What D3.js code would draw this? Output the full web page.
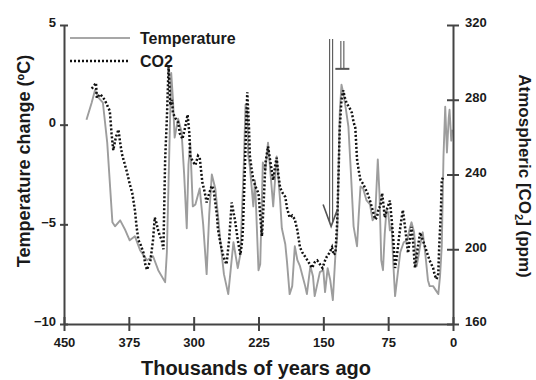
<!DOCTYPE html>
<html><head><meta charset="utf-8">
<script src="https://cdn.jsdelivr.net/npm/d3@7"></script>
<style>
html,body{margin:0;padding:0;background:#fff;}
svg text{font-family:"Liberation Sans",Arial,sans-serif;font-weight:bold;fill:#1a1a1a;}
</style></head><body>
<svg id="c" width="536" height="380"></svg>
<script>
// ---- data (thousands of years ago) ----
const tempAge = [424,418,414,411,405,400,394,391,385,379,374,368,362,354,347,341,333,331,328,326,324,322,318,314,311,308,306,304,301,298,293,289,285,282,279,275,272,269,265,260,257,254,249,246,242,240,238,237,235,231,229,225,223,220,217,214,211,208,204,200,198,194,192,189,186,183,180,177,174,171,169,165,162,160,157,154,150,148,145,142,139,136,134,132,131,129,127,124,121,118,115,113,111,109,107,104,100,96,93,90,87,85,83,81,79,77,75,73,71,69,67,64,61,57,53,50,48,45,42,40,37,35,32,29,27,23,20,17,15,13,11,9,7,5,4,2,1];
const tempVal = [0.25,1.1,1.75,1.4,1.1,-0.9,-4.9,-5.1,-4.8,-5.3,-5.8,-5.6,-6.3,-6.8,-6.6,-7.3,-7.9,-6.4,-1.0,2.6,1.3,-0.65,0.3,-0.35,-2.5,-5.2,-2.0,-0.9,-4.1,-4.0,-3.2,-5.0,-7.5,-4.5,-2.5,-3.2,-4.5,-5.9,-7.5,-8.5,-7.2,-5.9,-7.2,-6.5,-2.0,1.0,0.6,-1.5,-2.1,-4.1,-2.8,-7.3,-7.0,-1.9,-2.3,-0.9,-2.5,-4.1,-1.6,-3.8,-5.2,-6.0,-6.9,-8.5,-8.1,-6.1,-6.8,-7.1,-7.6,-8.1,-8.5,-7.1,-7.6,-8.6,-8.0,-7.4,-7.3,-8.4,-7.2,-7.8,-8.8,-6.5,-5.6,-1.5,0.6,2.0,1.6,0.8,-0.1,-2.5,-5.1,-5.6,-6.1,-4.5,-3.1,-3.2,-3.8,-4.0,-4.8,-4.6,-1.75,-3.5,-6.8,-7.3,-5.5,-4.3,-4.4,-5.3,-5.1,-7.0,-8.6,-7.5,-6.4,-5.9,-5.8,-5.2,-4.9,-5.4,-7.1,-6.6,-5.8,-5.4,-6.5,-7.8,-8.1,-8.1,-8.3,-8.5,-7.6,-6.1,-1.6,0.9,-1.4,0.3,0.75,-0.8,-0.25];

const co2Age = [418,416,413,412,408,403,400,397,395,393,390,387,385,383,380,377,374,371,368,366,364,361,358,356,354,350,347,345,343,341,339,337,335,333,331,329,327,325,324,321,318,316,313,310,307,305,304,301,298,295,293,290,287,285,282,279,277,275,273,272,269,266,264,262,259,256,254,252,249,246,244,243,241,239,238,236,235,233,231,228,225,223,221,219,217,214,211,208,206,204,202,200,197,194,192,189,186,183,180,177,174,171,167,163,160,157,154,151,148,146,143,140,138,136,134,133,131,129,127,125,123,120,117,115,113,111,109,107,104,102,99,96,93,90,88,86,84,82,80,79,76,73,71,69,67,65,62,60,58,55,52,50,48,46,44,41,38,35,32,30,27,23,21,19,17,16,14,13,11];
const co2Val = [286,287,289,281,283,280,277,274,262,253,260,264,257,251,246,241,235,230,221,212,205,202,198,192,189,194,205,217,214,210,207,205,200,248,270,298,277,280,273,270,268,262,259,265,272,262,250,247,245,250,249,236,230,225,230,234,232,225,218,211,203,197,194,192,205,225,220,215,205,197,204,211,240,270,284,265,250,243,237,233,230,218,207,225,246,255,246,237,244,249,240,233,230,228,222,217,218,216,210,201,198,196,193,190,193,194,192,190,194,196,198,201,197,198,214,230,265,280,285,281,278,276,273,268,265,248,242,237,235,233,230,226,221,216,217,222,223,230,222,217,222,226,216,205,190,196,208,215,221,210,198,205,212,203,190,200,209,205,201,198,194,190,186,184,187,201,220,237,239];

const xTicks = [450,375,300,225,150,75,0];
const tTicks = [-10,-5,0,5];
const cTicks = [160,200,240,280,320];
const seriesNames = ["Temperature","CO2"];

// ---- layout ----
const svg = d3.select("#c");
const L = 64, R = 453, T = 25, B = 324;
const x = d3.scaleLinear().domain([450,0]).range([L,R]);
const yT = d3.scaleLinear().domain([-10,5]).range([B,T]);
const yC = d3.scaleLinear().domain([160,320]).range([B,T]);
const axisCol = "#444";

// lines
const tData = tempAge.map((a,i)=>[a,tempVal[i]]);
const cData = co2Age.map((a,i)=>[a,co2Val[i]]);
svg.append("path").datum(tData)
  .attr("d", d3.line().x(d=>x(d[0])).y(d=>yT(d[1])))
  .attr("fill","none").attr("stroke","#9d9d9d").attr("stroke-width",1.9).attr("stroke-linejoin","round");
svg.append("path").datum(cData)
  .attr("d", d3.line().x(d=>x(d[0])).y(d=>yC(d[1])))
  .attr("fill","none").attr("stroke","#111").attr("stroke-width",2.5).attr("stroke-dasharray","2,2");

// axes
function styleAxis(g){
  g.select(".domain").attr("stroke",axisCol).attr("stroke-width",2);
  g.selectAll(".tick line").attr("stroke",axisCol).attr("stroke-width",2);
  g.selectAll(".tick text").attr("font-size",13).attr("font-weight","bold").attr("fill","#1a1a1a");
}
const gL = svg.append("g").attr("transform",`translate(${L},0)`)
  .call(d3.axisLeft(yT).tickValues(tTicks).tickSizeOuter(0).tickFormat(d3.format("d")));
styleAxis(gL);
gL.selectAll(".tick line").attr("x1",-4).attr("x2",4);
gL.selectAll(".tick text").attr("x",-8).attr("dy","0.15em");

const gB = svg.append("g").attr("transform",`translate(0,${B})`)
  .call(d3.axisBottom(x).tickValues(xTicks).tickSizeOuter(0).tickFormat(d3.format("d")));
styleAxis(gB);
gB.selectAll(".tick line").attr("y1",-7).attr("y2",7);
gB.selectAll(".tick text").attr("y",14).attr("dy","0.71em");

const gR = svg.append("g").attr("transform",`translate(${R},0)`)
  .call(d3.axisRight(yC).tickValues(cTicks).tickSizeOuter(0).tickFormat(d3.format("d")));
styleAxis(gR);
gR.selectAll(".tick line").attr("x1",-6).attr("x2",6);
gR.selectAll(".tick text").attr("x",12).attr("dy","0.15em");

// axis titles
svg.append("text").attr("transform","translate(30,161) rotate(-90)")
  .attr("text-anchor","middle").attr("font-size",18).text("Temperature change (ºC)");
const rt = svg.append("text").attr("transform","translate(519,176) rotate(90)")
  .attr("text-anchor","middle").attr("font-size",17);
rt.append("tspan").text("Atmospheric [CO");
rt.append("tspan").attr("font-size",11).attr("dy",4).text("2");
rt.append("tspan").attr("dy",-4).text("] (ppm)");
svg.append("text").attr("x",256).attr("y",375).attr("text-anchor","middle")
  .attr("font-size",20).text("Thousands of years ago");

// legend
svg.append("line").attr("x1",70).attr("x2",130).attr("y1",38).attr("y2",38)
  .attr("stroke","#8a8a8a").attr("stroke-width",1.6);
svg.append("text").attr("x",140).attr("y",44).attr("font-size",16).text(seriesNames[0]);
svg.append("line").attr("x1",70).attr("x2",130).attr("y1",61).attr("y2",61)
  .attr("stroke","#111").attr("stroke-width",2.5).attr("stroke-dasharray","2,2");
svg.append("text").attr("x",140).attr("y",67).attr("font-size",16).text(seriesNames[1]);

// annotations (arrows)
const a1 = x(141), a2 = x(128);
const ann = svg.append("g").attr("stroke","#555").attr("stroke-width",1.1).attr("fill","none");
ann.append("line").attr("x1",a1-1.5).attr("x2",a1-1.5).attr("y1",yT(4.3)).attr("y2",yT(-4.9));
ann.append("line").attr("x1",a1+1.5).attr("x2",a1+1.5).attr("y1",yT(4.3)).attr("y2",yT(-4.9));
ann.append("path").attr("d",`M${a1-8},${yT(-4.0)} L${a1},${yT(-5.1)} L${a1+6},${yT(-4.3)}`).attr("stroke-width",1.6);
ann.append("line").attr("x1",a2-1.5).attr("x2",a2-1.5).attr("y1",yT(4.2)).attr("y2",yT(2.8));
ann.append("line").attr("x1",a2+1.5).attr("x2",a2+1.5).attr("y1",yT(4.2)).attr("y2",yT(2.8));
ann.append("line").attr("x1",a2-7).attr("x2",a2+7).attr("y1",yT(2.8)).attr("y2",yT(2.8)).attr("stroke-width",2);
</script></body></html>
